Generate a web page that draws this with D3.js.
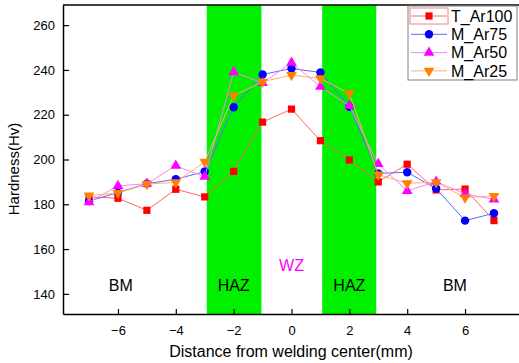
<!DOCTYPE html>
<html>
<head>
<meta charset="utf-8">
<script src="https://d3js.org/d3.v7.min.js"></script>
<style>
  body { margin: 0; background: #fff; }
  text { font-family: Arial, "Liberation Sans", sans-serif; }
</style>
</head>
<body>
<svg id="chart" width="519" height="363"></svg>
<script>
// distance from welding center (mm)
const positions = [-7, -6, -5, -4, -3, -2, -1, 0, 1, 2, 3, 4, 5, 6, 7];

// hardness values (Hv) per series
const tAr100 = [183.3, 182.7, 177.3, 186.7, 183.3, 194.7, 216.7, 222.5, 208.4, 199.8, 190.0, 197.9, 186.4, 186.8, 172.7];
const mAr75  = [181.5, 185.2, 189.2, 191.2, 194.6, 223.3, 238.0, 240.6, 238.9, 223.6, 193.8, 194.3, 187.0, 172.7, 176.0];
const mAr50  = [181.0, 188.2, 189.2, 197.2, 192.3, 239.0, 234.2, 243.2, 232.5, 224.0, 198.0, 186.0, 190.1, 184.6, 182.2];
const mAr25  = [183.9, 185.0, 189.0, 189.8, 199.0, 228.5, 234.7, 237.7, 236.2, 229.5, 193.2, 189.4, 189.8, 183.0, 183.7];

const seriesNames = ["T_Ar100", "M_Ar75", "M_Ar50", "M_Ar25"];
const xTicks = [-6, -4, -2, 0, 2, 4, 6];
const yTicks = [140, 160, 180, 200, 220, 240, 260];

// shaded heat affected zones
const hazBands = [[-2.93, -1.04], [1.06, 2.93]];
const zoneLabels = [
  {text: "BM", x: -5.9, y: 143.6, color: "#000"},
  {text: "HAZ", x: -2, y: 143.6, color: "#000"},
  {text: "WZ", x: 0, y: 152.9, color: "#ff00ff"},
  {text: "HAZ", x: 2, y: 143.6, color: "#000"},
  {text: "BM", x: 5.65, y: 143.6, color: "#000"}
];

const series = [
  {name: seriesNames[0], values: tAr100, marker: "#ff0000", line: "#ff6666", shape: "square"},
  {name: seriesNames[1], values: mAr75, marker: "#0000ff", line: "#6666ff", shape: "circle"},
  {name: seriesNames[2], values: mAr50, marker: "#ff00ff", line: "#ff80ff", shape: "up"},
  {name: seriesNames[3], values: mAr25, marker: "#ff7f00", line: "#ffb070", shape: "down"}
];

const svg = d3.select("#chart");
const mLeft = 63, mRight = 520, mTop = 5, mBottom = 314;

const x = d3.scaleLinear().domain([-7.9, 7.9]).range([mLeft, mRight]);
const y = d3.scaleLinear().domain([131, 269]).range([mBottom, mTop]);

// green bands
svg.append("g").selectAll("rect")
  .data(hazBands)
  .join("rect")
    .attr("x", d => x(d[0]))
    .attr("y", mTop)
    .attr("width", d => x(d[1]) - x(d[0]))
    .attr("height", mBottom - mTop)
    .attr("fill", "#00f000");

// zone labels
svg.append("g").selectAll("text")
  .data(zoneLabels)
  .join("text")
    .attr("x", d => x(d.x))
    .attr("y", d => y(d.y))
    .attr("dy", "0.35em")
    .attr("text-anchor", "middle")
    .attr("font-size", 16)
    .attr("fill", d => d.color)
    .text(d => d.text);

// axes
const xAxis = svg.append("g")
  .attr("transform", `translate(0,${mBottom})`)
  .call(d3.axisBottom(x).tickValues(xTicks).tickSizeInner(-5).tickSizeOuter(0).tickPadding(12));
const yAxis = svg.append("g")
  .attr("transform", `translate(${mLeft},0)`)
  .call(d3.axisLeft(y).tickValues(yTicks).tickSizeInner(-6).tickSizeOuter(0).tickPadding(8));

[xAxis, yAxis].forEach(g => {
  g.select(".domain").attr("stroke", "#000").attr("stroke-width", 1.5);
  g.selectAll(".tick line").attr("stroke", "#000").attr("stroke-width", 1.2);
  g.selectAll(".tick text").attr("font-size", 13).attr("fill", "#000")
    .attr("font-family", "Arial, 'Liberation Sans', sans-serif");
});

// top border
svg.append("line")
  .attr("x1", mLeft).attr("x2", 519)
  .attr("y1", mTop).attr("y2", mTop)
  .attr("stroke", "#000").attr("stroke-width", 1.5);

// axis titles
svg.append("text")
  .attr("x", 291).attr("y", 357)
  .attr("text-anchor", "middle")
  .attr("font-size", 16)
  .text("Distance from welding center(mm)");

svg.append("text")
  .attr("transform", "translate(19,169) rotate(-90)")
  .attr("text-anchor", "middle")
  .attr("font-size", 15)
  .text("Hardness(Hv)");

// marker drawing
const symbolFor = shape => {
  if (shape === "square") return d3.symbol().type(d3.symbolSquare).size(52)();
  if (shape === "circle") return d3.symbol().type(d3.symbolCircle).size(56)();
  return d3.symbol().type(d3.symbolTriangle).size(50)();
};

const line = d3.line().x((d, i) => x(positions[i])).y(d => y(d));

series.forEach(s => {
  const g = svg.append("g");
  g.append("path")
    .attr("d", line(s.values))
    .attr("fill", "none")
    .attr("stroke", s.line)
    .attr("stroke-width", 1);
  g.selectAll("path.pt")
    .data(s.values)
    .join("path")
      .attr("class", "pt")
      .attr("d", symbolFor(s.shape))
      .attr("transform", (d, i) => `translate(${x(positions[i])},${y(d)})` + (s.shape === "down" ? " rotate(180)" : ""))
      .attr("fill", s.marker);
});

// legend
const legend = svg.append("g");
legend.append("rect")
  .attr("x", 408).attr("y", 6).attr("width", 109).attr("height", 74)
  .attr("fill", "#fff").attr("stroke", "#808080").attr("stroke-width", 1);
legend.append("rect")
  .attr("x", 410).attr("y", 8).attr("width", 38).attr("height", 16)
  .attr("fill", "none").attr("stroke", "#ff8080").attr("stroke-width", 1);

series.forEach((s, i) => {
  const cy = 16 + i * 18.3;
  legend.append("line")
    .attr("x1", 411).attr("x2", 447)
    .attr("y1", cy).attr("y2", cy)
    .attr("stroke", s.line).attr("stroke-width", 1);
  legend.append("path")
    .attr("d", symbolFor(s.shape))
    .attr("transform", `translate(429,${cy})` + (s.shape === "down" ? " rotate(180)" : ""))
    .attr("fill", s.marker);
  legend.append("text")
    .attr("x", 451).attr("y", cy)
    .attr("dy", "0.36em")
    .attr("font-size", 16)
    .text(s.name);
});
</script>
</body>
</html>
